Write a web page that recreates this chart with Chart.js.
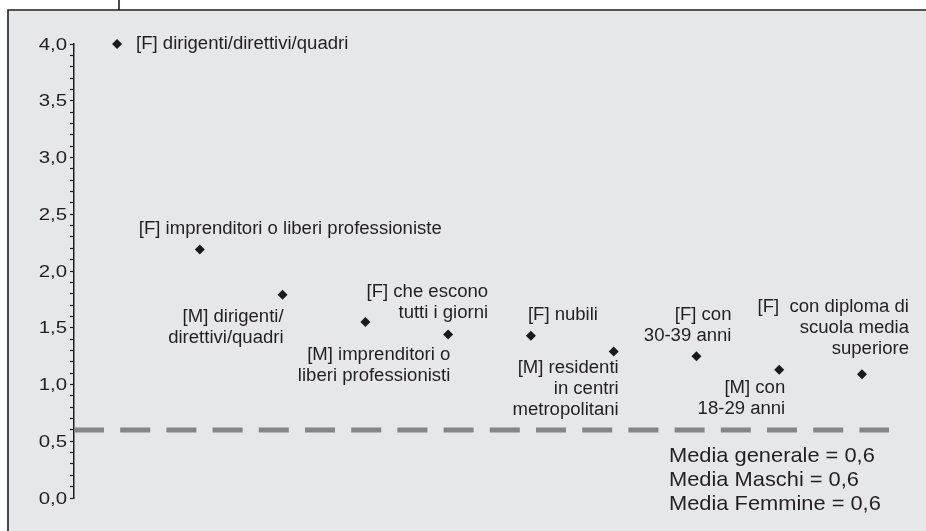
<!DOCTYPE html>
<html>
<head>
<meta charset="utf-8">
<script src="https://cdn.jsdelivr.net/npm/chart.js@4.4.0/dist/chart.umd.min.js"></script>
<style>
  body { margin:0; background:#fff; }
  canvas { display:block; }
</style>
</head>
<body>
<canvas id="grafico" width="926" height="531"></canvas>
<script>
/* DATI */
const categorie = [
  ["[F] dirigenti/direttivi/quadri"],
  ["[F] imprenditori o liberi professioniste"],
  ["[M] dirigenti/", "direttivi/quadri"],
  ["[M] imprenditori o", "liberi professionisti"],
  ["[F] che escono", "tutti i giorni"],
  ["[F] nubili"],
  ["[M] residenti", "in centri", "metropolitani"],
  ["[F] con", "30-39 anni"],
  ["[M] con", "18-29 anni"],
  ["[F]  con diploma di", "scuola media", "superiore"]
];
const posizioni = [1, 2, 3, 4, 5, 6, 7, 8, 9, 10];
const valori = [4.0, 2.19, 1.79, 1.55, 1.44, 1.43, 1.29, 1.25, 1.13, 1.09];
const yTickLabels = ["0,0", "0,5", "1,0", "1,5", "2,0", "2,5", "3,0", "3,5", "4,0"];
const mediaValore = 0.6;
const mediaX = [0.48, 10.326];
const mediaTesti = ["Media generale = 0,6", "Media Maschi = 0,6", "Media Femmine = 0,6"];

/* STILE */
const testoColore = "#231f20";
const sfondo = "#e6e7e9";
const fontBase = "Liberation Sans, Arial, Helvetica, sans-serif";

// posizione delle etichette rispetto al punto
const etichetteLayout = [
  {dx: 19, dy: 0, align: "left"},
  {dx: -61, dy: -20, align: "left"},
  {dx: 1, dy: 22, align: "right"},
  {dx: 85, dy: 33, align: "right"},
  {dx: 40, dy: -43, align: "right"},
  {dx: -3, dy: -21, align: "left"},
  {dx: 5, dy: 16, align: "right"},
  {dx: 35, dy: -41, align: "right"},
  {dx: 6, dy: 18, align: "right"},
  {dx: 47, dy: -67, align: "right"}
];

// testo un po' allargato come nell'originale
function testo(c, t, x, y, align, sx) {
  c.save();
  c.translate(x, y);
  c.scale(sx, 1);
  c.textAlign = align;
  c.fillText(t, 0, 0);
  c.restore();
}

const cornice = {
  id: "cornice",
  beforeDraw(chart) {
    const c = chart.ctx;
    c.save();
    c.fillStyle = "#fff";
    c.fillRect(0, 0, chart.width, chart.height);
    c.fillStyle = sfondo;
    c.fillRect(8, 10, chart.width - 8, chart.height - 10);
    c.strokeStyle = testoColore;
    c.lineWidth = 1.6;
    c.beginPath();
    c.moveTo(8, chart.height);
    c.lineTo(8, 10);
    c.lineTo(chart.width, 10);
    c.moveTo(119, 0);
    c.lineTo(119, 10);
    c.stroke();
    c.restore();
  }
};

const etichette = {
  id: "etichette",
  afterDatasetsDraw(chart) {
    const c = chart.ctx;
    const meta = chart.getDatasetMeta(1);
    const sy = chart.scales.y;
    c.save();
    c.fillStyle = testoColore;
    c.textBaseline = "middle";

    // etichette dell'asse y
    c.font = "17px " + fontBase;
    sy.ticks.forEach(t => {
      const d = Math.round(t.value * 10);
      if (d % 5 !== 0) return;
      testo(c, yTickLabels[d / 5], sy.right - 7, sy.getPixelForValue(t.value) + 1, "right", 1.2);
    });

    // etichette dei punti
    c.font = "18px " + fontBase;
    meta.data.forEach((p, i) => {
      const l = etichetteLayout[i];
      categorie[i].forEach((riga, k) => {
        testo(c, riga, p.x + l.dx, p.y + l.dy + k * 21, l.align, 1.03);
      });
    });

    c.font = "21px " + fontBase;
    const y0 = sy.getPixelForValue(mediaValore);
    mediaTesti.forEach((t, k) => {
      testo(c, t, 669, y0 + 26 + k * 24, "left", 1.04);
    });
    c.restore();
  }
};

new Chart(document.getElementById("grafico"), {
  data: {
    datasets: [
      {
        type: "line",
        data: mediaX.map(x => ({x: x, y: mediaValore})),
        borderColor: "#858585",
        borderWidth: 5,
        borderDash: [30, 16.2],
        borderCapStyle: "butt",
        pointRadius: 0,
        order: 2
      },
      {
        type: "scatter",
        data: posizioni.map((x, i) => ({x: x, y: valori[i]})),
        pointStyle: "rectRot",
        pointRadius: 5,
        backgroundColor: "#1a1a1a",
        borderColor: "#1a1a1a",
        borderWidth: 0,
        clip: false,
        order: 1
      }
    ]
  },
  options: {
    responsive: false,
    animation: false,
    layout: { padding: { left: 0, right: 16, top: 44, bottom: 33 } },
    plugins: {
      legend: { display: false },
      tooltip: { enabled: false }
    },
    scales: {
      x: { type: "linear", min: 0.48, max: 10.58, display: false },
      y: {
        min: 0,
        max: 4,
        afterFit(s) { s.width = 74; },
        border: { display: true, color: testoColore, width: 1.5 },
        grid: { drawOnChartArea: false, tickLength: 4, tickColor: testoColore, tickWidth: 1.2 },
        ticks: { stepSize: 0.1, autoSkip: false, display: false }
      }
    }
  },
  plugins: [cornice, etichette]
});
</script>
</body>
</html>
